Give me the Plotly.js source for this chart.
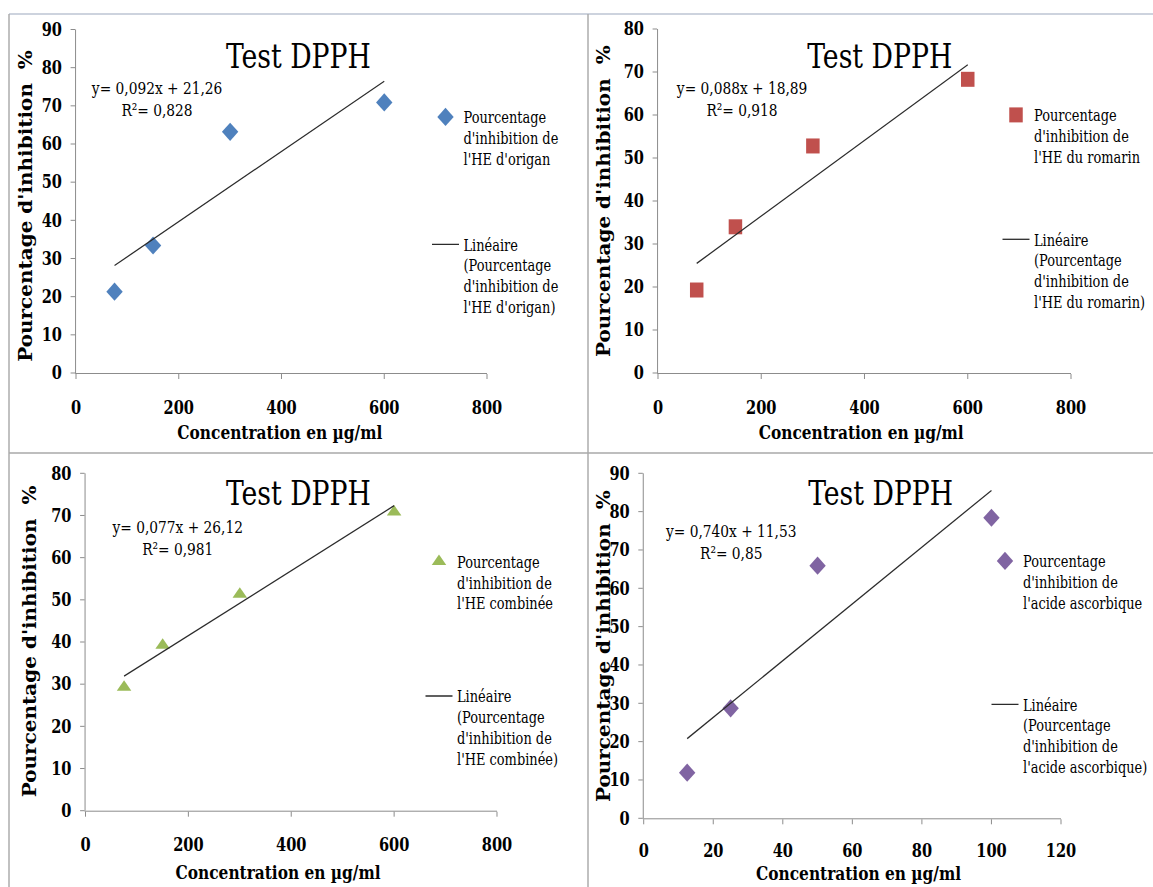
<!DOCTYPE html>
<html>
<head>
<meta charset="utf-8">
<script src="https://cdn.plot.ly/plotly-3.0.1.min.js"></script>
<style>
  html, body { margin: 0; padding: 0; overflow: hidden; background: #ffffff; width: 1153px; height: 887px; }
  #frame { position: relative; width: 1153px; height: 887px; overflow: hidden; }
  /* the figure is laid out wider and narrowed by 0.9, giving the condensed lettering */
  #chart { width: 1320px; height: 887px; transform: scaleX(0.9); transform-origin: 0 0; }
</style>
</head>
<body>
<div id="frame"><div id="chart"></div></div>
<script>
// DPPH radical scavenging test: inhibition (%) versus concentration (µg/ml)
const concOrigan = [75, 150, 300, 600];
const inhibOrigan = [21.3, 33.4, 63.2, 70.9];

const concRomarin = [75, 150, 300, 600];
const inhibRomarin = [19.3, 34.0, 52.8, 68.3];

const concCombinee = [75, 150, 300, 600];
const inhibCombinee = [29.3, 39.2, 51.3, 70.8];

const concAscorbique = [12.5, 25, 50, 100];
const inhibAscorbique = [11.9, 28.7, 65.9, 78.4];

// linear fits shown on each panel
const fitSlopes = [0.092, 0.088, 0.077, 0.740];
const fitIntercepts = [21.26, 18.89, 26.12, 11.53];
const fitR2 = ['0,828', '0,918', '0,981', '0,85'];

const seriesNames = [
  "Pourcentage<br>d'inhibition de<br>l'HE d'origan",
  "Pourcentage<br>d'inhibition de<br>l'HE du romarin",
  "Pourcentage<br>d'inhibition de<br>l'HE combinée",
  "Pourcentage<br>d'inhibition de<br>l'acide ascorbique"
];
const trendNames = [
  "Linéaire<br>(Pourcentage<br>d'inhibition de<br>l'HE d'origan)",
  "Linéaire<br>(Pourcentage<br>d'inhibition de<br>l'HE du romarin)",
  "Linéaire<br>(Pourcentage<br>d'inhibition de<br>l'HE combinée)",
  "Linéaire<br>(Pourcentage<br>d'inhibition de<br>l'acide ascorbique)"
];

const chartTitle = 'Test DPPH';
const xTitle = 'Concentration en µg/ml';
const yTitle = "Pourcentage d'inhibition  %";

const xData = [concOrigan, concRomarin, concCombinee, concAscorbique];
const yData = [inhibOrigan, inhibRomarin, inhibCombinee, inhibAscorbique];
const xRanges = [[0, 800], [0, 800], [0, 800], [0, 120]];
const xSteps = [200, 200, 200, 20];
const yRanges = [[0, 90], [0, 80], [0, 80], [0, 90]];

const colors = ['#4F81BD', '#C0504D', '#9BBB59', '#8064A2'];
const symbols = ['diamond', 'square', 'triangle-up', 'diamond'];
const markerSizes = [14, 15, 14, 14];

// pixel helpers: page px -> paper fractions of the 1320px figure narrowed to 1188px
const SX = 0.9, PW = 1320, FH = 887;
const fx = x => x / (PW * SX);
const fy = y => 1 - y / FH;

// plot areas: [left, right, top, bottom] in page px
const boxes = [
  [76, 487, 29.5, 373],
  [658, 1071, 29, 373],
  [85.5, 497, 473.3, 810.7],
  [643.7, 1061, 473.3, 818.3]
];
const titlePos = [[298, 56], [880, 56], [298, 494], [881, 494]];
const eqPos = [[157, 99], [742, 99], [177, 538], [731, 541.5]];
const xTitlePos = [[280, 432], [861, 432], [278, 872], [859, 873]];
const xStandoff = [13, 13, 13, 11];
const yTitlePos = [[26, 206], [604, 201], [30, 641], [604, 646]];
// legend anchor: marker x, marker y, gap between the two entries
const legendPos = [[445.5, 112, 62], [1016, 110, 59], [439, 556.7, 69], [1005, 556, 78]];

const serif = 'DejaVu Serif Condensed, DejaVu Serif';
const traces = [];
const layout = {
  width: PW, height: FH,
  margin: {l: 0, r: 0, t: 0, b: 0},
  paper_bgcolor: '#ffffff', plot_bgcolor: 'rgba(0,0,0,0)',
  showlegend: true,
  annotations: [],
  shapes: []
};

for (let i = 0; i < 4; i++) {
  const n = i === 0 ? '' : String(i + 1);
  const xa = 'x' + n, ya = 'y' + n;
  const legendId = 'legend' + n;
  const b = boxes[i];

  traces.push({
    type: 'scatter', mode: 'markers',
    x: xData[i], y: yData[i],
    xaxis: xa, yaxis: ya,
    name: seriesNames[i], legend: legendId, legendgroup: 'pts' + i,
    marker: {symbol: symbols[i], size: markerSizes[i], color: colors[i]},
    cliponaxis: false, hoverinfo: 'skip'
  });

  const xs = xData[i];
  const x0 = Math.min(...xs), x1 = Math.max(...xs);
  traces.push({
    type: 'scatter', mode: 'lines',
    x: [x0, x1],
    y: [fitSlopes[i] * x0 + fitIntercepts[i], fitSlopes[i] * x1 + fitIntercepts[i]],
    xaxis: xa, yaxis: ya,
    name: trendNames[i], legend: legendId, legendgroup: 'fit' + i,
    line: {color: '#2b2b2b', width: 1.3},
    cliponaxis: false, hoverinfo: 'skip'
  });

  const axisCommon = {
    showgrid: false, zeroline: false,
    showline: true, linecolor: '#868686', linewidth: 1,
    ticks: 'outside', ticklen: 5, tickcolor: '#868686', tickwidth: 1,
    tickfont: {family: serif, size: 18, color: '#000000', weight: 'bold'},
    fixedrange: true
  };
  layout['xaxis' + n] = Object.assign({}, axisCommon, {
    domain: [fx(b[0]), fx(b[1])], anchor: ya,
    range: xRanges[i], dtick: xSteps[i], tick0: 0,
    ticklabelstandoff: xStandoff[i]
  });
  layout['yaxis' + n] = Object.assign({}, axisCommon, {
    domain: [fy(b[3]), fy(b[2])], anchor: xa,
    range: yRanges[i], dtick: 10, tick0: 0,
    ticklabelstandoff: 6
  });

  const lp = legendPos[i];
  layout[legendId] = {
    x: fx(lp[0] - 18), xanchor: 'left',
    y: fy(lp[1] - 12), yanchor: 'top',
    bgcolor: 'rgba(0,0,0,0)', borderwidth: 0,
    font: {family: serif, size: 16, color: '#000000'},
    traceorder: 'grouped', tracegroupgap: lp[2],
    valign: 'top'
  };

  layout.annotations.push({
    text: chartTitle, xref: 'paper', yref: 'paper',
    x: fx(titlePos[i][0]), y: fy(titlePos[i][1]),
    xanchor: 'center', yanchor: 'middle', showarrow: false,
    font: {family: serif, size: 33, color: '#000000'}
  });
  const eq = 'y= ' + fitSlopes[i].toFixed(3).replace('.', ',') + 'x + ' +
             fitIntercepts[i].toFixed(2).replace('.', ',') + '<br>R²= ' + fitR2[i];
  layout.annotations.push({
    text: eq, xref: 'paper', yref: 'paper',
    x: fx(eqPos[i][0]), y: fy(eqPos[i][1]),
    xanchor: 'center', yanchor: 'middle', align: 'center', showarrow: false,
    font: {family: serif, size: 17, color: '#000000'}
  });
  layout.annotations.push({
    text: xTitle, xref: 'paper', yref: 'paper',
    x: fx(xTitlePos[i][0]), y: fy(xTitlePos[i][1]),
    xanchor: 'center', yanchor: 'middle', showarrow: false,
    font: {family: serif, size: 19, color: '#000000', weight: 'bold'}
  });
  layout.annotations.push({
    text: yTitle, xref: 'paper', yref: 'paper', textangle: -90,
    x: fx(yTitlePos[i][0]), y: fy(yTitlePos[i][1]),
    xanchor: 'center', yanchor: 'middle', showarrow: false,
    font: {family: 'DejaVu Serif', size: 20, color: '#000000', weight: 'bold'}
  });
}

// frames separating the four charts
const frame = (x0, y0, x1, y1, c) => ({
  type: 'line', xref: 'paper', yref: 'paper',
  x0: fx(x0), y0: fy(y0), x1: fx(x1), y1: fy(y1),
  line: {color: c, width: 1.6}
});
layout.shapes.push(frame(9, 14, 1160, 14, '#bcc5d3'));
layout.shapes.push(frame(9, 14, 9, 887, '#a9a9a9'));
layout.shapes.push(frame(588, 14, 588, 887, '#a9a9a9'));
layout.shapes.push(frame(9, 453, 1160, 453, '#a9a9a9'));

Plotly.newPlot('chart', traces, layout, {staticPlot: true, displayModeBar: false});
</script>
</body>
</html>
